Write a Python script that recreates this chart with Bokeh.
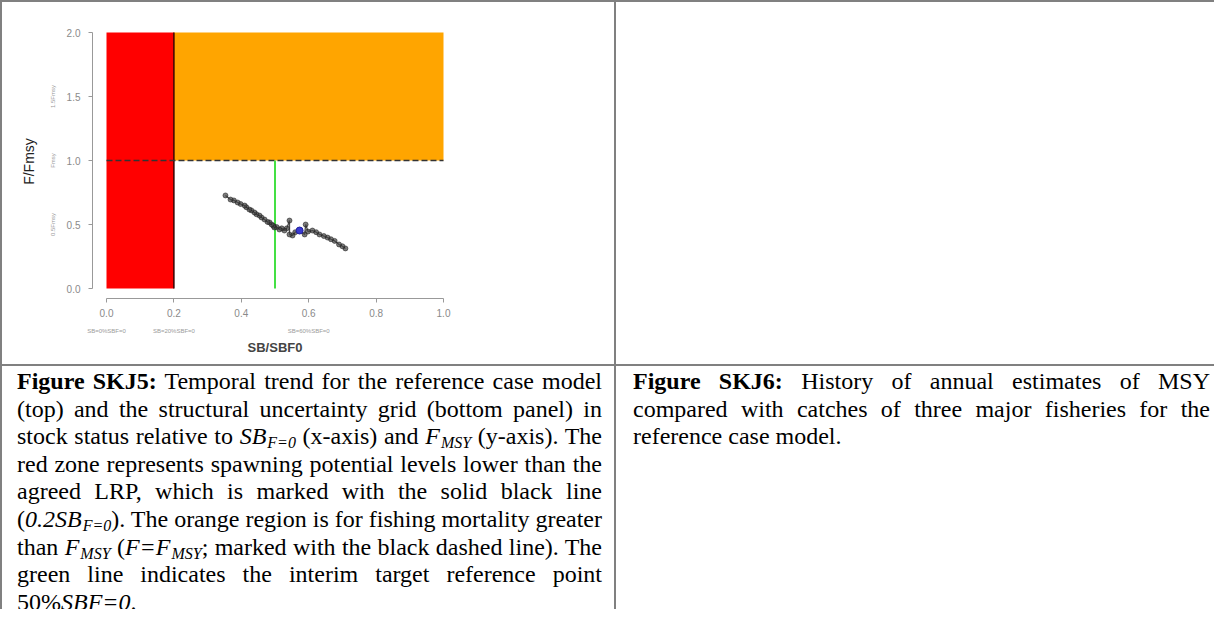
from bokeh.plotting import figure
from bokeh.models import Range1d, LinearAxis, FixedTicker, PrintfTickFormatter, Div
from bokeh.layouts import row, column
from bokeh.embed import file_html
from bokeh.resources import INLINE

# ---------------- data ----------------
lrp = [0.2]            # limit reference point SB/SBF0
fmsy_line = [1.0]      # F/Fmsy = 1
target = [0.5]         # interim target 50% SBF=0
sb_limits = [0.0, 1.0]
f_limits = [0.0, 2.0]

x_ticks = [0.0, 0.2, 0.4, 0.6, 0.8, 1.0]
y_ticks = [0.0, 0.5, 1.0, 1.5, 2.0]
x_sub_ticks = [0.0, 0.2, 0.6]
x_sub_labels = ["SB=0%SBF=0", "SB=20%SBF=0", "SB=60%SBF=0"]
y_sub_ticks = [0.5, 1.0, 1.5]
y_sub_labels = ["0.5Fmsy", "Fmsy", "1.5Fmsy"]

traj_sb = [0.709, 0.700, 0.690, 0.677, 0.666, 0.656, 0.645, 0.632, 0.622, 0.611,
           0.598, 0.591, 0.588, 0.573, 0.560, 0.552, 0.543, 0.543, 0.535, 0.528,
           0.520, 0.513, 0.505, 0.498, 0.495, 0.490, 0.484, 0.478, 0.469, 0.460,
           0.454, 0.445, 0.439, 0.430, 0.424, 0.415, 0.410, 0.398, 0.389, 0.378,
           0.368, 0.353]
traj_f = [0.313, 0.330, 0.344, 0.372, 0.385, 0.398, 0.410, 0.422, 0.440, 0.453,
          0.445, 0.500, 0.422, 0.453, 0.440, 0.414, 0.422, 0.531, 0.470, 0.453,
          0.470, 0.461, 0.480, 0.477, 0.490, 0.500, 0.516, 0.520, 0.539, 0.555,
          0.570, 0.580, 0.594, 0.610, 0.617, 0.635, 0.648, 0.660, 0.672, 0.688,
          0.695, 0.727]
latest_sb = [0.573]
latest_f = [0.453]

SUB = '<sub style="font-size:16px;line-height:0;vertical-align:-4px;margin-left:1px">'
caption_left_lines = [
    '<b>Figure SKJ5:</b> Temporal trend for the reference case model',
    '(top) and the structural uncertainty grid (bottom panel) in',
    f'stock status relative to <i>SB{SUB}F=0</sub></i> (x-axis) and <i>F{SUB}MSY</sub></i> (y-axis). The',
    'red zone represents spawning potential levels lower than the',
    'agreed LRP, which is marked with the solid black line',
    f'(<i>0.2SB{SUB}F=0</sub></i>). The orange region is for fishing mortality greater',
    f'than <i>F{SUB}MSY</sub></i> (<i>F=F{SUB}MSY</sub></i>; marked with the black dashed line). The',
    'green line indicates the interim target reference point',
    '50%<i>SBF=0</i>.',
]
caption_right_lines = [
    '<b>Figure SKJ6:</b> History of annual estimates of MSY',
    'compared with catches of three major fisheries for the',
    'reference case model.',
]

# ---------------- chart ----------------
GRAY = "#808080"
px_per_x = 337.0
px_per_y = 128.0

p = figure(width=612, height=362,
           x_range=Range1d(-14 / px_per_x, 1 + 14 / px_per_x),
           y_range=Range1d(-10 / px_per_y, 2 + 8 / px_per_y),
           output_backend="svg", toolbar_location=None,
           min_border_left=90, min_border_right=157,
           min_border_top=22, min_border_bottom=66)
p.outline_line_color = None
p.xgrid.visible = False
p.ygrid.visible = False
p.background_fill_color = "white"
p.border_fill_color = "white"

# zones
p.quad(left=[sb_limits[0]], right=lrp, bottom=[f_limits[0]], top=[f_limits[1]],
       fill_color="#ff0000", line_color=None)
p.quad(left=lrp, right=[sb_limits[1]], bottom=fmsy_line, top=[f_limits[1]],
       fill_color="#ffa500", line_color=None)
# LRP solid line
p.segment(x0=lrp, y0=[f_limits[0]], x1=lrp, y1=[f_limits[1]], line_color="#3a0000", line_width=1.5)
# Fmsy dashed line
p.segment(x0=[sb_limits[0]], y0=fmsy_line, x1=[sb_limits[1]], y1=fmsy_line,
          line_color="#333333", line_width=1.5, line_dash="6 3")
# target green line
p.segment(x0=target, y0=[f_limits[0]], x1=target, y1=fmsy_line, line_color="#44e044", line_width=2)

# trajectory
p.line(traj_sb, traj_f, line_color="#111111", line_width=1.3, line_alpha=0.75)
p.scatter(traj_sb, traj_f, size=5, fill_color="#444444", fill_alpha=0.7,
          line_color="#111111", line_alpha=0.5)
p.scatter(latest_sb, latest_f, size=7, fill_color="#3a3ad0", line_color="#2020a0")

# main axes
xa = p.xaxis[0]
xa.ticker = FixedTicker(ticks=x_ticks)
xa.formatter = PrintfTickFormatter(format="%.1f")
xa.bounds = (sb_limits[0], sb_limits[1])
ya = p.yaxis[0]
ya.ticker = FixedTicker(ticks=y_ticks)
ya.formatter = PrintfTickFormatter(format="%.1f")
ya.bounds = (f_limits[0], f_limits[1])
for ax in (xa, ya):
    ax.axis_line_color = "#999999"
    ax.major_tick_line_color = "#999999"
    ax.major_tick_out = 4
    ax.major_tick_in = 0
    ax.minor_tick_line_color = None
    ax.major_label_text_color = "#8a8a8a"
    ax.major_label_text_font = "Liberation Sans"
    ax.major_label_text_font_size = "10px"
xa.major_label_standoff = 6
ya.major_label_standoff = 8
ya.major_label_orientation = "horizontal"

# secondary axes with small annotations and titles
xb = LinearAxis(ticker=FixedTicker(ticks=x_sub_ticks),
                major_label_overrides={t: l for t, l in zip(x_sub_ticks, x_sub_labels)},
                axis_line_color=None, major_tick_line_color=None, minor_tick_line_color=None,
                major_label_text_font_size="6px", major_label_text_color="#9a9a9a",
                major_label_text_font="Liberation Sans", major_label_standoff=2,
                axis_label="SB/SBF0", axis_label_text_font="Liberation Sans",
                axis_label_text_font_size="13px", axis_label_text_font_style="bold",
                axis_label_text_color="#444444", axis_label_standoff=3)
p.add_layout(xb, "below")
yb = LinearAxis(ticker=FixedTicker(ticks=y_sub_ticks),
                major_label_overrides={t: l for t, l in zip(y_sub_ticks, y_sub_labels)},
                axis_line_color=None, major_tick_line_color=None, minor_tick_line_color=None,
                major_label_text_font_size="6px", major_label_text_color="#9a9a9a",
                major_label_text_font="Liberation Sans", major_label_standoff=2,
                major_label_orientation="vertical",
                axis_label="F/Fmsy", axis_label_text_font="Liberation Sans",
                axis_label_text_font_size="14px", axis_label_text_font_style="normal",
                axis_label_text_color="#222222", axis_label_standoff=10)
p.add_layout(yb, "left")

# ---------------- page / table ----------------
def hline(w):
    return Div(text="", width=w, height=2, margin=0, styles={"background-color": GRAY})

def vline(h):
    return Div(text="", width=2, height=h, margin=0, styles={"background-color": GRAY})

TXT = ("font-family:'Liberation Serif','Times New Roman',serif;font-size:24px;"
       "line-height:27.6px;color:#000;box-sizing:border-box;")

def caption_html(lines, pad, width):
    out = []
    for i, ln in enumerate(lines):
        last = (i == len(lines) - 1)
        align = "left" if last else "justify"
        out.append(f'<div style="height:27.6px;text-align:{align};text-align-last:{align};">{ln}</div>')
    return f'<div style="{TXT}width:{width}px;padding:{pad};">' + "".join(out) + "</div>"

cap_l = Div(text=caption_html(caption_left_lines, "2px 12px 0 15px", 612),
            width=612, height=243, margin=0, styles={"overflow": "hidden"})
cap_r = Div(text=caption_html(caption_right_lines, "2px 4px 0 17px", 598),
            width=598, height=243, margin=0, styles={"overflow": "hidden"})
empty_r = Div(text="", width=598, height=362, margin=0)

layout = column(
    hline(1214),
    row(vline(362), p, vline(362), empty_r, spacing=0),
    hline(1214),
    row(vline(243), cap_l, vline(243), cap_r, spacing=0),
    spacing=0,
)

open("out.html", "w").write(file_html(layout, INLINE))
